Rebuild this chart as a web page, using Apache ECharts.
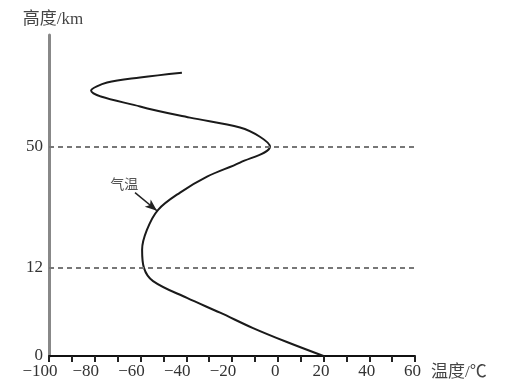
<!DOCTYPE html>
<html><head><meta charset="utf-8">
<script src="https://cdn.jsdelivr.net/npm/echarts@6/dist/echarts.min.js"></script>
<style>html,body{margin:0;padding:0;background:#fff}#c{width:518px;height:386px}</style>
</head><body><div id="c"></div>
<script>
// Temperature (°C) and altitude (km) along the curve, bottom to top
var temps = [20, 4, -10.8, -25.2, -39.7, -54.5, -58.5, -59.3, -57.2, -52.3, -42.7, -30.9, -16.5, -3.4, -7.8, -16.5, -38.4, -60.2, -81.6, -74.6, -60.2, -41.9];
var alts  = [0, 1.9, 3.8, 5.9, 7.9, 10.2, 12, 17.7, 23.9, 30.2, 35.6, 40.6, 45, 50, 53.1, 56, 59.1, 62.6, 67.6, 70.1, 71.7, 73.2];
var yTicks = [0, 12, 50];          // labelled altitudes
var refLines = [12, 50];           // dashed reference altitudes
var xTicks = [-100, -80, -60, -40, -20, 0, 20, 40, 60];
var annotText = '气温';
var annotFrom = [-62.4, 35.6];     // arrow tail (°C, km)
var annotTo = [-52.8, 29.9];       // arrow tip on the curve
var altMax = 85;

// schematic (broken-scale) altitude axis: 0-12 km stretched, 12+ km compressed
var LOW = 88, HIGH = 121 / 38;
function pos(a) { return a <= 12 ? a * LOW / 12 : LOW + (a - 12) * HIGH; }
function inv(p) { return p <= LOW ? p * 12 / LOW : 12 + (p - LOW) / HIGH; }

var data = temps.map(function (t, i) { return [t, pos(alts[i])]; });
var serif = "'Liberation Serif','Noto Sans CJK SC',serif";

var chart = echarts.init(document.getElementById('c'));
chart.setOption({
  animation: false,
  grid: { left: 49, right: 103, top: 35, bottom: 30, containLabel: false },
  xAxis: {
    type: 'value', min: -100, max: 60, interval: 20,
    name: '温度/℃', nameLocation: 'end', nameGap: 16,
    nameTextStyle: { fontFamily: serif, fontSize: 17, color: '#444', verticalAlign: 'top', padding: [8, 0, 0, 0] },
    axisLine: { show: true, onZero: false, lineStyle: { color: '#111', width: 2 } },
    axisTick: { show: true, inside: false, length: 6, lineStyle: { color: '#222', width: 2 } },
    minorTick: { show: true, splitNumber: 2, length: 6, lineStyle: { color: '#222', width: 2 } },
    splitLine: { show: false },
    axisLabel: { fontFamily: serif, fontSize: 17, color: '#333', margin: 7,
      customValues: xTicks,
      formatter: function (v) { return v < 0 ? '{n|−' + (-v) + '}' : '{p|' + v + '}'; },
      rich: {
        n: { fontFamily: serif, fontSize: 17, color: '#333', padding: [0, 18, 0, 0] },
        p: { fontFamily: serif, fontSize: 17, color: '#333', padding: [0, 5, 0, 0] }
      } }
  },
  yAxis: {
    type: 'value', min: 0, max: pos(altMax),
    name: '高度/km', nameLocation: 'end', nameGap: 7,
    nameTextStyle: { fontFamily: serif, fontSize: 17, color: '#444', align: 'center', padding: [0, 0, 0, 8] },
    axisLine: { show: true, onZero: false, lineStyle: { color: '#888', width: 3 } },
    axisTick: { show: false },
    splitLine: { show: false },
    axisLabel: { fontFamily: serif, fontSize: 17, color: '#333', margin: 6,
      customValues: yTicks.map(pos),
      formatter: function (v) { return String(Math.round(inv(v))); } }
  },
  series: [{
    type: 'line',
    data: data,
    smooth: 0.35,
    showSymbol: false,
    lineStyle: { color: '#1a1a1a', width: 2 },
    markLine: {
      silent: true, symbol: 'none',
      lineStyle: { type: [5, 4], color: '#777', width: 2 },
      label: { show: false },
      data: refLines.map(function (a) { return { yAxis: pos(a) }; })
        .concat([[
          { coord: [annotFrom[0], pos(annotFrom[1])], symbol: 'none',
            lineStyle: { type: 'solid', color: '#222', width: 1.5 },
            label: { show: true, position: 'start', formatter: annotText, color: '#555',
                     fontFamily: "'Noto Sans CJK SC',sans-serif", fontSize: 14, distance: 14 } },
          { coord: [annotTo[0], pos(annotTo[1])], symbol: 'arrow', symbolSize: [7, 12] }
        ]])
    }
  }]
});
</script></body></html>
